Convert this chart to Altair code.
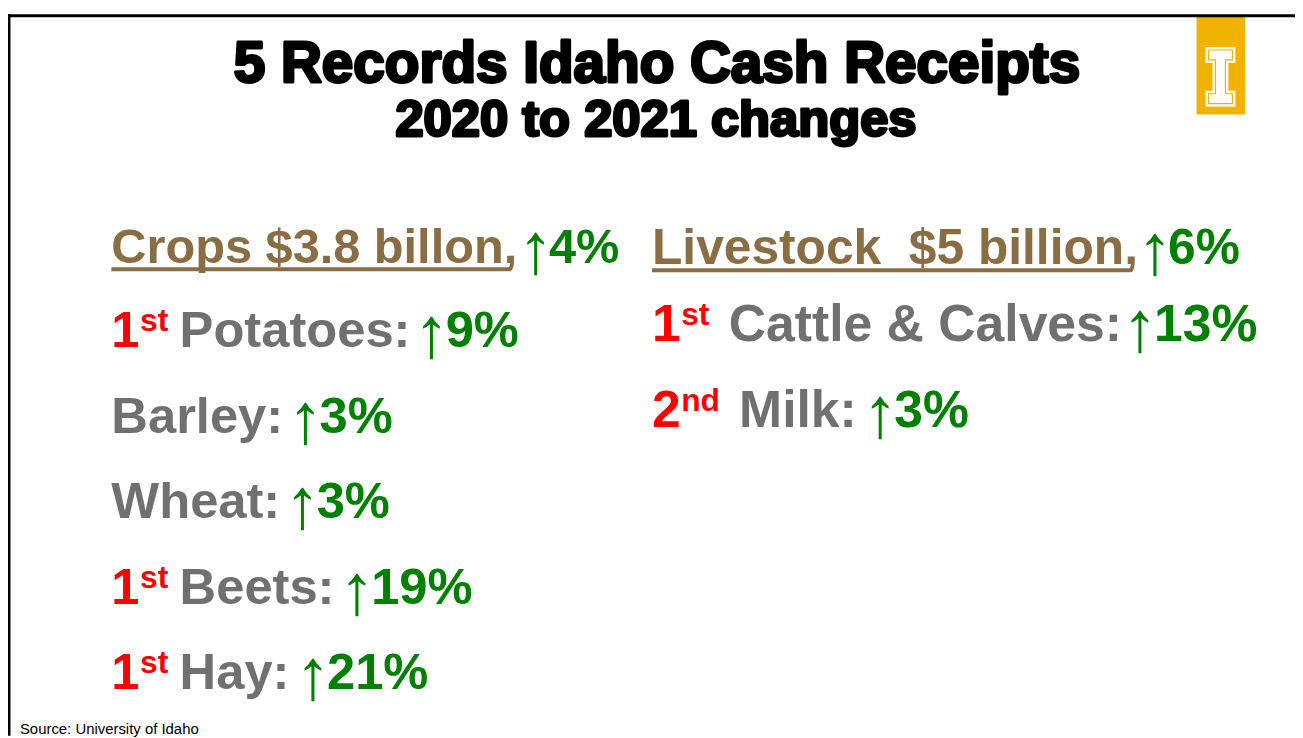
import altair as alt
import pandas as pd

# ---------------- content ----------------
title = "5 Records Idaho Cash Receipts"
subtitle = "2020 to 2021 changes"
source_note = "Source: University of Idaho"

crop_header = "Crops $3.8 billon,"
crop_total_change = 4
livestock_header = "Livestock  $5 billion,"
livestock_total_change = 6

crop_items = ["Potatoes", "Barley", "Wheat", "Beets", "Hay"]
crop_changes = [9, 3, 3, 19, 21]
crop_ranks = ["1st", "", "", "1st", "1st"]

livestock_items = ["Cattle & Calves", "Milk"]
livestock_changes = [13, 3]
livestock_ranks = ["1st", "2nd"]

# ---------------- styles / layout ----------------
BROWN = "#8B6D43"
GRAY = "#707070"
RED = "#FF0000"
GREEN = "#008000"
GOLD = "#F1B300"
SUP = 32
ARROW_SIZE = 72
KERN = 0.98  # rendered width vs. nominal advance sum

# Liberation Sans Bold advance widths (per 1000 em)
ADV = {" ": 278, "$": 556, "%": 889, "&": 722, ",": 278, ".": 278, ":": 333,
       "A": 722, "B": 722, "C": 722, "H": 722, "L": 611, "M": 833, "P": 667, "W": 944,
       "a": 556, "b": 611, "c": 556, "d": 611, "e": 556, "h": 611, "i": 278, "k": 556,
       "l": 278, "n": 611, "o": 611, "p": 611, "r": 389, "s": 556, "t": 333, "v": 556,
       "y": 556}
for d in "0123456789":
    ADV[d] = 556


def tw(s, size):
    return KERN * sum(ADV.get(c, 556) for c in s) * size / 1000.0


def keep_spaces(s):
    # SVG collapses repeated spaces; keep them with no-break spaces
    return s.replace("  ", "\u00a0\u00a0")


bold_rows, arrow_rows, rule_rows = [], [], []


def add_header(text, change, x0, base, size):
    bold_rows.append(dict(x=x0, y=base, text=keep_spaces(text), color=BROWN, size=size))
    end = x0 + tw(text, size)
    rule_rows.append(dict(x=x0, x2=end + 2, y=base + 6.5, y2=base + 6.5, color=BROWN, w=4))
    ax = end + 27
    arrow_rows.append(dict(x=ax, y=base + 10, text="↑"))
    bold_rows.append(dict(x=ax + 13, y=base, text=f"{change}%", color=GREEN, size=size))


def add_row(item, change, rank, x0, base, size, gap):
    x = x0
    if rank:
        num, suf = rank[0], rank[1:]
        bold_rows.append(dict(x=x, y=base, text=num, color=RED, size=size))
        x += tw(num, size) + 1
        bold_rows.append(dict(x=x, y=base - 16, text=suf, color=RED, size=SUP))
        x += tw(suf, SUP) + gap
    label = item + ":"
    bold_rows.append(dict(x=x, y=base, text=label, color=GRAY, size=size))
    ax = x + tw(label, size) + 26
    arrow_rows.append(dict(x=ax, y=base + 10, text="↑"))
    bold_rows.append(dict(x=ax + 14, y=base, text=f"{change}%", color=GREEN, size=size))


LEFT_X, RIGHT_X = 112, 656
add_header(crop_header, crop_total_change, LEFT_X, 262, 49)
add_header(livestock_header, livestock_total_change, RIGHT_X, 263, 50)
left_bases = [347, 433, 519, 605, 691]
right_bases = [341, 427]
for it, ch, rk, b in zip(crop_items, crop_changes, crop_ranks, left_bases):
    add_row(it, ch, rk, LEFT_X, b, 51, 12)
for it, ch, rk, b in zip(livestock_items, livestock_changes, livestock_ranks, right_bases):
    add_row(it, ch, rk, RIGHT_X, b, 52, 20)

# frame lines
rule_rows.append(dict(x=8, x2=1303, y=13.5, y2=13.5, color="#000000", w=3))
rule_rows.append(dict(x=9, x2=9, y=12, y2=738, color="#000000", w=3))

# ---------------- chart ----------------
xs = alt.Scale(domain=[8, 1303], nice=False, zero=False)
ys = alt.Scale(domain=[8, 738], nice=False, zero=False, reverse=True)


def X(f="x"):
    return alt.X(f"{f}:Q", scale=xs, axis=None)


def Y(f="y"):
    return alt.Y(f"{f}:Q", scale=ys, axis=None)


bold_layer = alt.Chart(pd.DataFrame(bold_rows)).mark_text(
    font="Liberation Sans", fontWeight="bold", align="left", baseline="alphabetic"
).encode(x=X(), y=Y(), text="text:N",
         color=alt.Color("color:N", scale=None), size=alt.Size("size:Q", scale=None))

arrow_layer = alt.Chart(pd.DataFrame(arrow_rows)).mark_text(
    font="Liberation Sans", fontWeight="normal", align="center", baseline="alphabetic",
    fontSize=ARROW_SIZE, color=GREEN
).encode(x=X(), y=Y(), text="text:N")

rules = alt.Chart(pd.DataFrame(rule_rows)).mark_rule().encode(
    x=X(), x2="x2:Q", y=Y(), y2="y2:Q",
    color=alt.Color("color:N", scale=None), strokeWidth=alt.StrokeWidth("w:Q", scale=None))

titles = pd.DataFrame([
    dict(x=661, y=80, text=title, size=57),
    dict(x=660, y=135, text=subtitle, size=51),
])
title_layer = alt.Chart(titles).mark_text(
    font="Liberation Sans", fontWeight="bold", align="center", baseline="alphabetic",
    color="#000000", stroke="#000000", strokeWidth=3, strokeJoin="round"
).encode(x=X(), y=Y(), text="text:N", size=alt.Size("size:Q", scale=None))

source_layer = alt.Chart(pd.DataFrame([dict(x=20, y=736, text=source_note)])).mark_text(
    font="Liberation Sans", fontSize=15, align="left", baseline="alphabetic", color="#000000"
).encode(x=X(), y=Y(), text="text:N")

# University logo (gold tab with block "I")
logo_rects = pd.DataFrame([
    dict(x=1204, x2=1253, y=13, y2=113, color=GOLD),
    dict(x=1213, x2=1243, y=45, y2=61, color="#FFFFFF"),
    dict(x=1220, x2=1236, y=60, y2=90, color="#FFFFFF"),
    dict(x=1213, x2=1243, y=89, y2=105, color="#FFFFFF"),
])
logo_layer = alt.Chart(logo_rects).mark_rect().encode(
    x=X(), x2="x2:Q", y=Y(), y2="y2:Q", color=alt.Color("color:N", scale=None))

i_outline = [(1216, 48), (1240, 48), (1240, 58), (1233, 58), (1233, 92), (1240, 92),
             (1240, 102), (1216, 102), (1216, 92), (1223, 92), (1223, 58), (1216, 58), (1216, 48)]
outline_df = pd.DataFrame([dict(x=a, y=b, o=i) for i, (a, b) in enumerate(i_outline)])
outline_layer = alt.Chart(outline_df).mark_line(color=GOLD, strokeWidth=1.2).encode(
    x=X(), y=Y(), order="o:Q")

chart = alt.layer(
    logo_layer, outline_layer, rules, title_layer, bold_layer, arrow_layer, source_layer
).properties(width=1295, height=730, padding=0, autosize=alt.AutoSizeParams(type="none"),
             background="#FFFFFF"
).configure_view(strokeWidth=0)

chart.save("out.html", embed_options={"renderer": "svg", "actions": False})
